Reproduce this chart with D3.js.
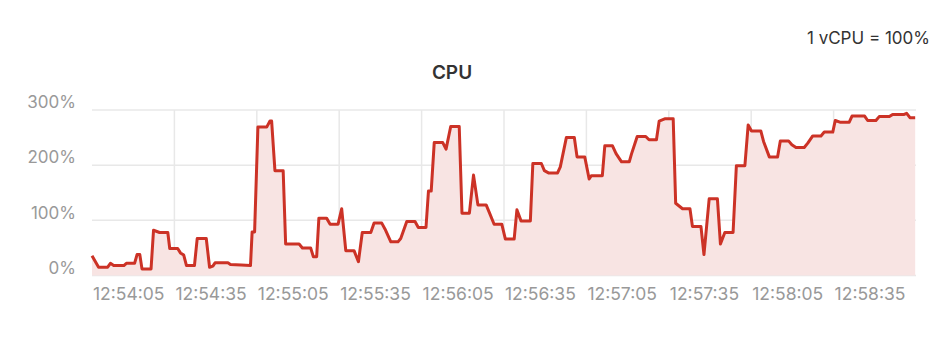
<!DOCTYPE html>
<html>
<head>
<meta charset="utf-8">
<script src="https://cdn.jsdelivr.net/npm/d3@7"></script>
<style>
  body { margin: 0; background: #fff; }
  text { font-family: Inter, "Noto Sans", sans-serif; }
</style>
</head>
<body>
<svg id="chart"></svg>
<script>
const width = 952;
const height = 337;
const margin = {top: 110, right: 36, bottom: 61.5, left: 92};

// seconds after 12:54:05 and cpu % (1 vCPU = 100%)
const seconds = [0, 2.4, 5.7, 6.7, 7.9, 11.6, 12.5, 15.5, 16.4, 17.4, 18.2, 21.5, 22.4, 24.6, 27.6, 28.3,
  31.2, 32.2, 33.4, 34.4, 37.3, 38.3, 41.6, 42.8, 44, 44.8, 49.5, 50.4, 54.3, 57.7, 58.3, 59.2,
  60.4, 63.6, 64.8, 65.4, 66.6, 69.6, 70.5, 75.4, 76.6, 79.6, 80.6, 81.8, 82.6, 85.4, 86.7, 89.6,
  90.9, 92.4, 95.4, 97, 98.4, 101.5, 102.7, 105.5, 106.7, 108.8, 111.4, 112.4, 114.6, 117.6, 118.8,
  121.6, 122.5, 123.5, 124.6, 127.7, 128.9, 130.6, 133.7, 134.7, 137.4, 138.9, 140.5, 143.5, 144.6,
  146.4, 149.2, 150.5, 153.7, 154.7, 156.2, 159.6, 160.5, 163.6, 164.7, 166.2, 169.5, 170.5, 172.7,
  175.6, 176.6, 179.4, 181, 181.8, 185.8, 186.7, 189.5, 190.8, 192.8, 195.6, 196.4, 198.5, 201.6,
  202.8, 205.5, 206.5, 208.5, 211.6, 212.5, 215, 217.7, 218.6, 221.7, 222.8, 224.7, 227.7, 228.8,
  230.4, 233.4, 234.6, 237.7, 238.9, 240.1, 243.5, 244.5, 246.6, 249.6, 250.6, 253.6, 254.8, 256.3,
  259.3, 260.6, 262.4, 265.4, 266.6, 269.7, 270.6, 272.3, 275.7, 276.7, 281.3, 282.4, 285.4, 286.6,
  290.3, 291.5, 295.7, 296.6, 297.8, 299.7];
const cpu = [36, 15, 15, 22, 18, 18, 22, 22, 38, 38, 12, 12, 82, 78, 78, 49,
  49, 41, 37, 18, 18, 67, 67, 15, 17, 23, 23, 20, 19, 18, 79, 79,
  269, 269, 280, 280, 190, 190, 57, 57, 50, 50, 34, 34, 104, 104, 93, 93,
  121, 45, 45, 25, 78, 78, 95, 95, 84, 61, 61, 67, 98, 98, 87,
  87, 153, 153, 241, 241, 229, 270, 270, 113, 113, 182, 128, 128, 115,
  93, 93, 66, 66, 119, 99, 99, 203, 203, 190, 186, 186, 197, 250,
  250, 215, 215, 175, 181, 181, 235, 235, 221, 206, 206, 220, 252, 252,
  246, 246, 280, 284, 284, 131, 121, 121, 89, 89, 38, 139, 139, 57,
  78, 78, 199, 199, 273, 262, 262, 243, 215, 215, 244, 244, 237, 232,
  232, 240, 253, 253, 260, 260, 281, 278, 278, 289, 289, 281, 281, 288,
  288, 292, 292, 294, 286, 286];
const yTicks = [0, 100, 200, 300];
const tickLabels = ['12:54:05', '12:54:35', '12:55:05', '12:55:35', '12:56:05',
  '12:56:35', '12:57:05', '12:57:35', '12:58:05', '12:58:35'];

const parse = d3.timeParse('%H:%M:%S');
const start = parse('12:54:05');
const end = parse('12:59:05');
const xTicks = tickLabels.map(parse);
const data = seconds.map((s, i) => ({t: new Date(+start + s * 1000), v: cpu[i]}));

const svg = d3.select('#chart')
    .attr('width', width)
    .attr('height', height);

const x = d3.scaleTime()
    .domain([start, end])
    .range([margin.left, width - margin.right]);

const y = d3.scaleLinear()
    .domain([0, 300])
    .range([height - margin.bottom, margin.top]);

// grid
svg.append('g')
  .selectAll('line')
  .data(yTicks)
  .join('line')
    .attr('x1', margin.left)
    .attr('x2', width - margin.right)
    .attr('y1', d => y(d))
    .attr('y2', d => y(d))
    .attr('stroke', '#e8e8e8')
    .attr('stroke-width', 1.5);

svg.append('g')
  .selectAll('line')
  .data(xTicks.slice(1))
  .join('line')
    .attr('x1', d => x(d))
    .attr('x2', d => x(d))
    .attr('y1', margin.top)
    .attr('y2', height - margin.bottom)
    .attr('stroke', '#e8e8e8')
    .attr('stroke-width', 1.5);

// area + line
svg.append('path')
    .datum(data)
    .attr('fill', '#f8e4e3')
    .attr('d', d3.area().x(d => x(d.t)).y0(y(0)).y1(d => y(d.v)));

svg.append('path')
    .datum(data)
    .attr('fill', 'none')
    .attr('stroke', '#cc3226')
    .attr('stroke-width', 3)
    .attr('stroke-linejoin', 'round')
    .attr('d', d3.line().x(d => x(d.t)).y(d => y(d.v)));

// axes labels
svg.append('g')
  .selectAll('text')
  .data(xTicks)
  .join('text')
    .attr('x', d => x(d) + 1)
    .attr('y', 300)
    .attr('fill', '#999')
    .attr('font-size', 17.5)
    .text((d, i) => tickLabels[i]);

svg.append('g')
  .selectAll('text')
  .data(yTicks)
  .join('text')
    .attr('x', 76)
    .attr('y', d => y(d))
    .attr('dy', '-0.1em')
    .attr('text-anchor', 'end')
    .attr('fill', '#999')
    .attr('font-size', 17)
    .text(d => d + '%');

svg.append('text')
    .attr('x', 452)
    .attr('y', 79)
    .attr('text-anchor', 'middle')
    .attr('font-size', 19)
    .attr('font-weight', 600)
    .attr('fill', '#333')
    .text('CPU');

svg.append('text')
    .attr('x', 930)
    .attr('y', 44)
    .attr('text-anchor', 'end')
    .attr('font-size', 17)
    .attr('fill', '#333')
    .text('1 vCPU = 100%');
</script>
</body>
</html>
